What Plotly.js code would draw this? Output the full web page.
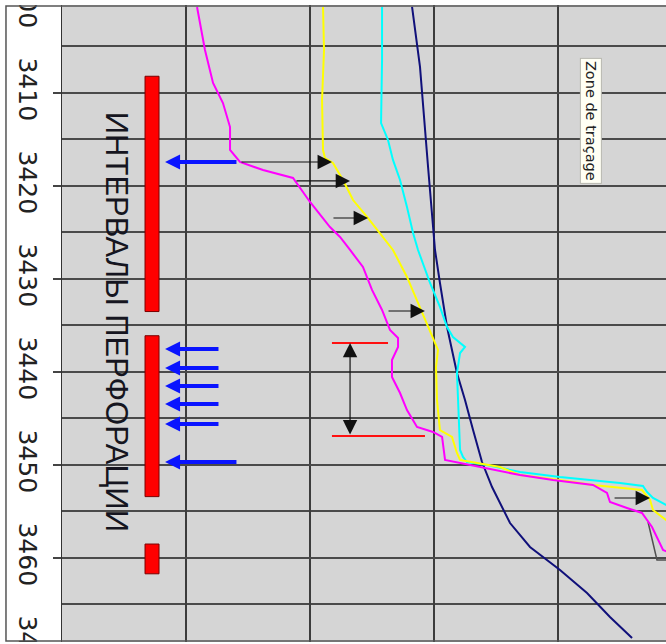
<!DOCTYPE html>
<html><head><meta charset="utf-8">
<script src="https://cdn.plot.ly/plotly-3.0.1.min.js"></script>
<style>
html,body{margin:0;padding:0;overflow:hidden;background:#fff;width:666px;height:644px}
#wrap{position:absolute;left:0;top:5px;width:666px;height:637px;overflow:hidden}
#chart{position:absolute;left:0;top:-25px;width:700px;height:700px}
</style>
</head><body><div id="wrap"><div id="chart"></div></div>
<script>
// ---- data (x in grid units, depth in m) ----
const depthTicks = [3400, 3410, 3420, 3430, 3440, 3450, 3460, 3470];

const magentaX = [1.089,1.153,1.218,1.298,1.355,1.355,1.435,1.621,1.863,1.903,2.000,2.161,2.242,2.323,2.427,2.500,2.581,2.645,2.710,2.710,2.661,2.661,2.726,2.782,2.863,2.992,3.065,3.089,3.210,3.427,3.694,3.960,4.282,4.395,4.419,4.556,4.677,4.758,4.806,4.847,4.903];
const magentaDepth = [3400.75,3405.38,3408.92,3411.08,3413.66,3416.13,3417.42,3418.28,3419.14,3419.89,3421.72,3424.41,3425.48,3426.88,3428.71,3431.18,3433.33,3435.48,3436.34,3437.31,3438.71,3440.54,3442.26,3444.09,3445.91,3446.45,3446.99,3449.46,3449.78,3450.32,3451.08,3451.61,3452.15,3453.01,3453.98,3454.62,3455.16,3456.67,3458.06,3459.14,3459.46];

const yellowX = [2.105,2.113,2.097,2.105,2.121,2.185,2.266,2.347,2.460,2.565,2.669,2.782,2.887,2.992,3.032,3.016,3.024,3.048,3.145,3.185,3.210,3.347,3.532,3.694,4.016,4.282,4.556,4.677,4.742,4.766,4.903];
const yellowDepth = [3400.75,3405.38,3410.75,3416.13,3416.99,3417.53,3419.35,3421.51,3423.33,3425.05,3426.88,3429.78,3433.01,3436.24,3437.63,3439.46,3443.01,3446.24,3446.99,3448.71,3449.46,3449.78,3450.22,3451.08,3451.61,3452.15,3452.47,3452.69,3453.76,3454.84,3456.24];

const cyanX = [2.581,2.581,2.573,2.629,2.669,2.726,2.782,2.831,2.871,2.968,3.048,3.105,3.153,3.250,3.210,3.185,3.194,3.210,3.234,3.266,3.427,3.694,4.016,4.282,4.500,4.685,4.718,4.766,4.903];
const cyanDepth = [3400.75,3406.45,3413.23,3415.05,3417.20,3419.35,3422.26,3425.05,3426.88,3430.43,3433.01,3435.16,3436.24,3437.31,3437.96,3440.11,3443.01,3448.39,3449.14,3449.68,3450.00,3450.75,3451.29,3451.61,3451.94,3452.26,3452.90,3453.55,3454.52];

const navyX = [2.823,2.887,2.952,3.008,3.048,3.105,3.185,3.250,3.315,3.387,3.468,3.613,3.774,4.016,4.234,4.419,4.597];
const navyDepth = [3400.75,3407.20,3417.96,3426.88,3430.43,3435.16,3440.11,3443.01,3446.24,3449.68,3452.37,3456.24,3458.82,3461.29,3463.76,3466.34,3468.60];

const grayX = [4.726,4.798,4.903];
const grayDepth = [3456.13,3460.22,3460.22];

// perforation intervals (top, bottom)
const perfTop = [3408.2, 3436.1, 3458.5];
const perfBottom = [3433.5, 3453.4, 3461.7];
const perfX = 0.726;

// red marker lines
const redStartX = [2.177, 2.177];
const redEndX = [2.629, 2.927];
const redDepth = [3436.88, 3446.88];

// blue arrows (pointing left to the perforation column)
const blueTipX = 0.831;
const blueTailX = [1.419, 1.274, 1.274, 1.274, 1.274, 1.274, 1.419];
const blueDepth = [3417.42, 3437.53, 3439.57, 3441.51, 3443.44, 3445.59, 3449.68];

// black arrows (pointing right)
const blackTailX = [1.435, 1.879, 2.177, 2.621, 4.444];
const blackTipX = [2.177, 2.323, 2.468, 2.927, 4.742];
const blackDepth = [3417.42, 3419.46, 3423.44, 3433.44, 3453.55];

// vertical double arrow
const dblX = 2.323;
const dblDepth = [3436.88, 3446.88];

const labelText = 'ИНТЕРВАЛЫ ПЕРФОРАЦИИ';
const zoneText = 'Zone de traçage';

// ---- traces ----
const lineTrace = (x, y, color, w) => ({type:'scatter', mode:'lines', x:x, y:y,
  line:{color:color, width:w}, hoverinfo:'skip', showlegend:false, cliponaxis:true});

const redX = [], redY = [];
for (let i = 0; i < redDepth.length; i++) {
  redX.push(redStartX[i], redEndX[i], null);
  redY.push(redDepth[i], redDepth[i], null);
}

const traces = [
  {type:'bar', x:perfTop.map(()=>perfX), base:perfTop,
   y:perfTop.map((t,i)=>perfBottom[i]-t), width:0.113,
   marker:{color:'#ff0000', line:{color:'#7a0000', width:1}},
   hoverinfo:'skip', showlegend:false},
  lineTrace(redX, redY, '#ff1010', 2),
  lineTrace(grayX, grayDepth, '#505050', 1.5),
  lineTrace(navyX, navyDepth, '#10107a', 2),
  lineTrace(cyanX, cyanDepth, '#00ffff', 2),
  lineTrace(yellowX, yellowDepth, '#ffff00', 2),
  lineTrace(magentaX, magentaDepth, '#ff00ff', 2)
];

// ---- annotations ----
const ann = [];
blueDepth.forEach((d, i) => ann.push({x:blueTipX, y:d, ax:blueTailX[i], ay:d,
  xref:'x', yref:'y', axref:'x', ayref:'y', text:'', showarrow:true,
  arrowhead:2, arrowsize:0.75, arrowwidth:4, arrowcolor:'#0a14ff', standoff:0}));
blackDepth.forEach((d, i) => ann.push({x:blackTipX[i], y:d, ax:blackTailX[i], ay:d,
  xref:'x', yref:'y', axref:'x', ayref:'y', text:'', showarrow:true,
  arrowhead:2, arrowsize:2.4, arrowwidth:1.2, arrowcolor:'#111', standoff:0}));
ann.push({x:dblX, y:dblDepth[0], ax:dblX, ay:dblDepth[1],
  xref:'x', yref:'y', axref:'x', ayref:'y', text:'', showarrow:true,
  arrowside:'end+start', arrowhead:2, startarrowhead:2, arrowsize:2.4, startarrowsize:2.4,
  arrowwidth:1.2, arrowcolor:'#111', standoff:0, startstandoff:0});
ann.push({x:0.435, y:3434.6, xref:'x', yref:'y', text:labelText, showarrow:false,
  textangle:90, font:{family:'Liberation Sans, Arial, sans-serif', size:31, color:'#151520'}});
ann.push({x:4.266, y:3413.0, xref:'x', yref:'y', text:zoneText, showarrow:false,
  textangle:90, font:{family:'DejaVu Sans, sans-serif', size:14.5, color:'#222'},
  bgcolor:'#fffff4', bordercolor:'#b8b8b0', borderwidth:1, borderpad:2});

// ---- layout ----
const shapes = [
  {type:'rect', xref:'paper', yref:'paper', x0:-0.0878, x1:1.05, y0:0.0557, y1:0.9629,
   fillcolor:'rgba(0,0,0,0)', line:{color:'#555', width:1.5}, layer:'above'}
];

const layout = {
  width:700, height:700,
  margin:{l:62, r:0, t:0, b:0},
  paper_bgcolor:'#ffffff', plot_bgcolor:'#d5d5d5',
  showlegend:false, hovermode:false, bargap:0,
  xaxis:{range:[0, 5.145], dtick:1, tick0:0, showgrid:true, gridcolor:'#3c3c3c', gridwidth:1.5,
         showticklabels:false, ticks:'', zeroline:false, showline:false, fixedrange:true},
  yaxis:{range:[3473.12, 3397.85], tickvals:depthTicks, ticktext:depthTicks.map(String),
         showgrid:true, gridcolor:'#4a4a4a', gridwidth:2,
         minor:{dtick:5, tick0:3400, showgrid:true, gridcolor:'#4a4a4a', gridwidth:2, ticks:''},
         ticks:'outside', ticklen:8, tickwidth:1.5, tickcolor:'#444',
         tickangle:90, ticklabeloverflow:'allow', ticklabelstandoff:4,
         tickfont:{family:'DejaVu Sans, sans-serif', size:25, color:'#222'},
         showline:true, linecolor:'#333', linewidth:1.5, zeroline:false, fixedrange:true},
  annotations:ann,
  shapes:shapes
};

Plotly.newPlot('chart', traces, layout, {displayModeBar:false, staticPlot:true});
</script></body></html>
